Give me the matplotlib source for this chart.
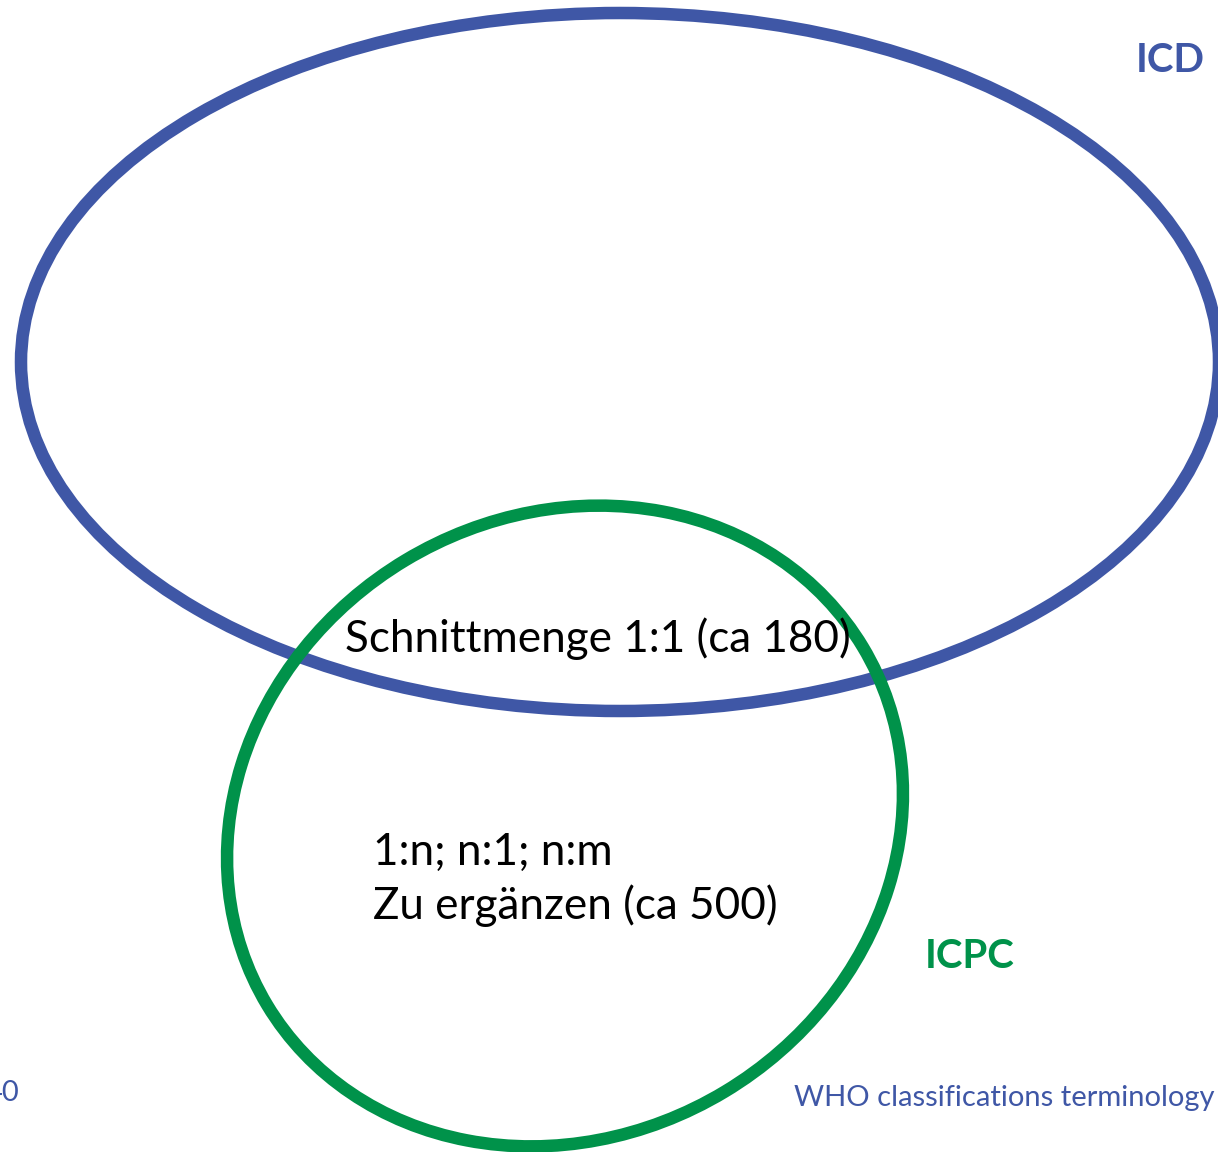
import matplotlib
matplotlib.use("Agg")
import matplotlib.pyplot as plt
from matplotlib.patches import Ellipse

plt.rcParams['font.family'] = ['Lato', 'DejaVu Sans']

# sets: name, center (px), width, height, angle, colour
set_names = ['ICD', 'ICPC']
set_centers = [(620, 362), (565, 826)]
set_widths = [1198, 695]
set_heights = [698, 620]
set_angles = [0, -31]
set_colors = ['#3F57A6', '#00924A']

# labels inside the diagram
overlap_label = 'Schnittmenge 1:1 (ca 180)'
rest_lines = ['1:n; n:1; n:m', 'Zu ergänzen (ca 500)']
footer_right = 'WHO classifications terminology'
footer_left = '40'

fig = plt.figure(figsize=(12.18, 11.52), dpi=100)
ax = fig.add_axes([0, 0, 1, 1])
ax.set_xlim(0, 1218)
ax.set_ylim(1152, 0)
ax.axis('off')

for c, w, h, a, col in zip(set_centers, set_widths, set_heights, set_angles, set_colors):
    e = Ellipse(c, w, h, angle=a, fill=False, edgecolor=col, linewidth=9)
    ax.add_patch(e)

# set names
ax.text(1170, 72, set_names[0], color=set_colors[0], fontsize=29, fontweight='bold',
        ha='center', va='baseline')
ax.text(970, 968, set_names[1], color=set_colors[1], fontsize=29, fontweight='bold',
        ha='center', va='baseline')

ax.text(345, 652, overlap_label, fontsize=31.7, color='black', ha='left', va='baseline')
ax.text(373, 865, rest_lines[0], fontsize=31.7, color='black', ha='left', va='baseline')
ax.text(373, 919, rest_lines[1], fontsize=31.7, color='black', ha='left', va='baseline')

ax.text(1215, 1106, footer_right, fontsize=21, color=set_colors[0], ha='right', va='baseline')
ax.text(19, 1101, footer_left, fontsize=21, color=set_colors[0], ha='right', va='baseline')

fig.savefig('out.png', dpi=100)
